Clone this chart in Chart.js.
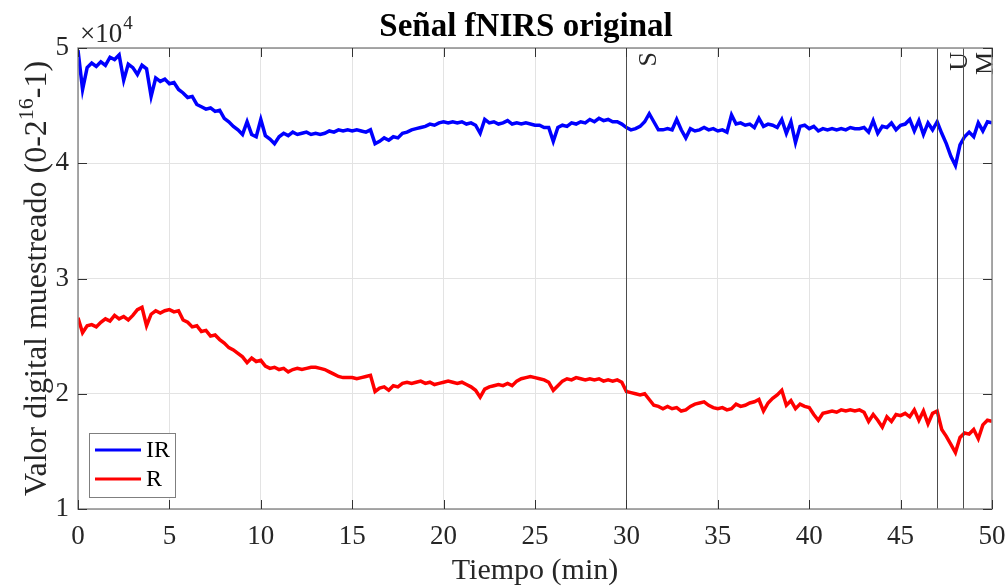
<!DOCTYPE html>
<html lang="es">
<head>
  <meta charset="UTF-8" />
  <title>Señal fNIRS original</title>
  <script src="https://cdn.jsdelivr.net/npm/chart.js"></script>
  <style>
    body { margin: 0; background: #ffffff; }
    #wrap { width: 1008px; height: 586px; }
  </style>
</head>
<body>
  <div id="wrap"><canvas id="fnirsChart" width="1008" height="586"></canvas></div>

  <script>
    // sampling grid of the traces (minutes)
    const SAMPLE_STEP = 0.25;

    // IR channel, raw counts, one row per 5 minutes
    const irValues = [
      49800,46400,48300,48700,48400,48800,48500,49200,49000,49400,47200,48600,48300,47700,48500,48200,45800,47400,47100,47300,
      46900,47000,46400,46100,45700,45800,45100,44900,44700,44800,44500,44600,43900,43600,43200,42900,42500,43600,42500,42300,
      43800,42400,42100,41700,42300,42600,42400,42700,42500,42600,42700,42500,42600,42500,42600,42800,42700,42900,42800,42900,
      42800,42900,42800,42700,42900,41700,41900,42200,42000,42300,42200,42600,42700,42900,43000,43100,43200,43400,43300,43500,
      43600,43500,43600,43500,43600,43400,43500,43300,42600,43800,43500,43600,43400,43500,43700,43400,43500,43400,43500,43400,
      43300,43300,43100,43100,41900,43100,43300,43200,43500,43400,43600,43500,43800,43600,43900,43700,43800,43600,43600,43400,
      43100,42900,43000,43200,43600,44300,43600,42900,42900,43000,42900,43800,42900,42200,43000,42800,42900,43100,42900,43000,
      42800,42900,42700,44200,43400,43500,43300,43400,43100,43900,43200,43400,43300,43100,43800,42600,43600,41800,43200,43300,
      43000,43200,42800,43000,42900,43000,42900,43000,42900,43100,43000,43000,43100,42700,43700,42600,43200,43100,43500,42900,
      43300,43400,43800,42800,43700,42500,43500,42900,43600,42600,41700,40600,39800,41600,42300,42700,42300,43500,42800,43600,
      43500
    ];

    // R channel, raw counts, one row per 5 minutes
    const rValues = [
      26600,25300,25900,26000,25800,26200,26500,26300,26800,26500,26700,26400,26800,27300,27500,25900,26900,27200,27000,27200,
      27300,27100,27200,26400,26200,25800,25900,25400,25500,25000,25100,24700,24400,24000,23800,23500,23200,22700,23100,22800,
      22900,22400,22200,22300,22100,22200,21900,22100,22200,22100,22200,22300,22300,22200,22100,21900,21700,21500,21400,21400,
      21400,21300,21400,21500,21600,20200,20500,20600,20300,20700,20600,20900,21000,20900,21000,21100,20900,21000,20800,20900,
      21000,21100,21000,20900,21000,20800,20600,20300,19700,20400,20600,20700,20800,20700,20900,20700,21100,21300,21400,21500,
      21400,21300,21200,21000,20300,20700,21100,21300,21200,21400,21300,21200,21300,21200,21300,21100,21200,21100,21200,21000,
      20200,20100,20000,19900,20000,19500,19000,18900,18700,18900,18700,18800,18500,18600,18900,19100,19200,19300,19000,18800,
      18700,18800,18600,18700,19100,18900,19000,19200,19300,19500,18500,19200,19600,19900,20300,19000,19400,18700,19100,18900,
      18800,18200,17700,18300,18400,18500,18400,18600,18500,18600,18500,18600,18400,17600,18200,17700,17100,18000,17600,18200,
      18100,18300,18000,18600,17700,18500,17400,18300,18500,16900,16300,15600,14900,16200,16600,16500,16900,16100,17300,17700,
      17600
    ];

    const seriesNames = ['IR', 'R'];
    const seriesColors = ['#0000ff', '#ff0000'];

    // event markers (minutes)
    const markerTimes = [30, 47, 48.4];
    const markerLabels = ['S', 'U', 'M'];

    const xTicks = [0, 5, 10, 15, 20, 25, 30, 35, 40, 45, 50];
    const yTicks = [10000, 20000, 30000, 40000, 50000];

    const SERIF = '"Liberation Serif", "DejaVu Serif", serif';

    function toPoints(vals) {
      return vals.map((v, i) => ({ x: i * SAMPLE_STEP, y: v }));
    }

    const decorPlugin = {
      id: 'decor',
      afterDatasetsDraw(chart) {
        const c = chart.ctx;
        const a = chart.chartArea;
        const xs = chart.scales.x, ys = chart.scales.y;
        c.save();

        // event markers
        c.strokeStyle = '#4d4d4d';
        c.lineWidth = 1;
        c.fillStyle = '#262626';
        c.font = '26px ' + SERIF;
        markerTimes.forEach((t, i) => {
          const px = Math.round(xs.getPixelForValue(t)) + 0.5;
          c.beginPath();
          c.moveTo(px, a.top);
          c.lineTo(px, a.bottom);
          c.stroke();
          c.save();
          c.translate(px + 29, a.top + 4);
          c.rotate(-Math.PI / 2);
          c.textAlign = 'right';
          c.textBaseline = 'alphabetic';
          c.fillText(markerLabels[i], 0, 0);
          c.restore();
        });

        // box
        c.strokeStyle = '#8c8c8c';
        c.lineWidth = 1.5;
        c.strokeRect(a.left, a.top, a.right - a.left, a.bottom - a.top);

        // inward tick marks
        c.strokeStyle = '#333333';
        c.lineWidth = 1;
        xTicks.forEach(t => {
          const px = Math.round(xs.getPixelForValue(t)) + 0.5;
          c.beginPath();
          c.moveTo(px, a.bottom); c.lineTo(px, a.bottom - 9);
          c.moveTo(px, a.top); c.lineTo(px, a.top + 9);
          c.stroke();
        });
        yTicks.forEach(v => {
          const py = Math.round(ys.getPixelForValue(v)) + 0.5;
          c.beginPath();
          c.moveTo(a.left, py); c.lineTo(a.left + 9, py);
          c.moveTo(a.right, py); c.lineTo(a.right - 9, py);
          c.stroke();
        });

        // legend
        const lx = 89, ly = 433, lw = 86, lh = 64;
        c.fillStyle = '#ffffff';
        c.fillRect(lx, ly, lw, lh);
        c.strokeStyle = '#7f7f7f';
        c.lineWidth = 1;
        c.strokeRect(lx + 0.5, ly + 0.5, lw, lh);
        c.font = '24px ' + SERIF;
        c.textAlign = 'left';
        c.textBaseline = 'middle';
        seriesNames.forEach((name, i) => {
          const yy = ly + 17 + i * 29;
          c.strokeStyle = seriesColors[i];
          c.lineWidth = 3;
          c.beginPath();
          c.moveTo(lx + 6, yy); c.lineTo(lx + 52, yy);
          c.stroke();
          c.fillStyle = '#000000';
          c.fillText(name, lx + 57, yy + 1);
        });

        // title
        c.fillStyle = '#000000';
        c.font = 'bold 33px ' + SERIF;
        c.textAlign = 'center';
        c.textBaseline = 'alphabetic';
        c.fillText('Señal fNIRS original', 526, 36);

        // exponent label
        c.fillStyle = '#262626';
        c.textAlign = 'left';
        c.font = '27px ' + SERIF;
        c.fillText('×10', a.left + 2, 42);
        const wx = c.measureText('×10').width;
        c.font = '19px ' + SERIF;
        c.fillText('4', a.left + 2 + wx + 1, 29);

        // y axis title with superscript
        const p1 = 'Valor digital muestreado (0-2', sup = '16', p2 = '-1)';
        c.save();
        c.translate(46, (a.top + a.bottom) / 2);
        c.rotate(-Math.PI / 2);
        c.font = '32px ' + SERIF;
        const w1 = c.measureText(p1).width, w3 = c.measureText(p2).width;
        c.font = '22px ' + SERIF;
        const w2 = c.measureText(sup).width;
        let sx = -(w1 + w2 + w3) / 2;
        c.font = '32px ' + SERIF;
        c.fillText(p1, sx, 0);
        sx += w1;
        c.font = '22px ' + SERIF;
        c.fillText(sup, sx, -13);
        sx += w2;
        c.font = '32px ' + SERIF;
        c.fillText(p2, sx, 0);
        c.restore();

        // x axis title
        c.font = '30px ' + SERIF;
        c.textAlign = 'center';
        c.fillText('Tiempo (min)', (a.left + a.right) / 2, 579);

        c.restore();
      }
    };

    const ctx = document.getElementById('fnirsChart').getContext('2d');
    const chart = new Chart(ctx, {
      type: 'line',
      data: {
        datasets: [
          {
            label: seriesNames[0],
            data: toPoints(irValues),
            borderColor: seriesColors[0],
            borderWidth: 3.5,
            pointRadius: 0,
            tension: 0
          },
          {
            label: seriesNames[1],
            data: toPoints(rValues),
            borderColor: seriesColors[1],
            borderWidth: 3.5,
            pointRadius: 0,
            tension: 0
          }
        ]
      },
      options: {
        responsive: false,
        animation: false,
        devicePixelRatio: 1,
        layout: { padding: { top: 48, right: 16, left: 0, bottom: 0 } },
        plugins: {
          legend: { display: false },
          title: { display: false },
          tooltip: { enabled: false }
        },
        scales: {
          x: {
            type: 'linear',
            min: 0,
            max: 50,
            afterFit: s => { s.height = 77; s.paddingLeft = 0; s.paddingRight = 0; },
            afterBuildTicks: s => { s.ticks = xTicks.map(v => ({ value: v })); },
            grid: { color: '#e3e3e3', drawTicks: false },
            border: { display: false },
            ticks: {
              padding: 12,
              color: '#262626',
              font: { family: SERIF, size: 27 },
              maxRotation: 0
            }
          },
          y: {
            min: 10000,
            max: 50000,
            afterFit: s => { s.width = 78; s.paddingTop = 0; s.paddingBottom = 0; },
            afterBuildTicks: s => { s.ticks = yTicks.map(v => ({ value: v })); },
            grid: { color: '#e3e3e3', drawTicks: false },
            border: { display: false },
            ticks: {
              padding: 9,
              color: '#262626',
              font: { family: SERIF, size: 27 },
              callback: v => String(v / 10000)
            }
          }
        }
      },
      plugins: [decorPlugin]
    });
  </script>
</body>
</html>
